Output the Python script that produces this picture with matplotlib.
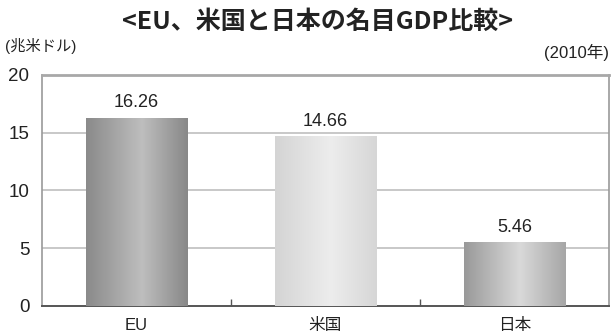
import matplotlib.pyplot as plt
import numpy as np
from matplotlib.colors import LinearSegmentedColormap

# 数字と英字は Helvetica 系, 日本語はゴシック
plt.rcParams['font.family'] = ['Liberation Sans', 'Noto Sans CJK JP']

# 名目GDP(兆米ドル, 2010年)
regions = ["EU", "米国", "日本"]
gdp = [16.26, 14.66, 5.46]
yticks = [0, 5, 10, 15, 20]

# 各棒の横方向グラデーション (左端, 中央, 右端)
shades = [
    ["#8a8a8a", "#bebebe", "#888888"],
    ["#d4d4d4", "#ededed", "#d6d6d6"],
    ["#999999", "#d9d9d9", "#a6a6a6"],
]

fig = plt.figure(figsize=(6.11, 3.36), dpi=100)
ax = fig.add_axes([0.0687, 0.0893, 0.9280, 0.6877])

x = np.arange(len(regions))
bars = ax.bar(x, gdp, width=0.535, color="none", edgecolor="none", zorder=3)

grad = np.linspace(0, 1, 256).reshape(1, -1)
for b, sh in zip(bars, shades):
    cmap = LinearSegmentedColormap.from_list("g", [(0, sh[0]), (0.55, sh[1]), (1, sh[2])])
    x0, w, h = b.get_x(), b.get_width(), b.get_height()
    ax.imshow(grad, cmap=cmap, aspect="auto", extent=[x0, x0 + w, 0, h],
              zorder=3, interpolation="bicubic")

for xi, v in zip(x, gdp):
    ax.text(xi, v + 0.6, f"{v:.2f}", ha="center", va="bottom",
            fontsize=13, color="#222222", zorder=4)

ax.set_xlim(-0.5, len(regions) - 0.5)
ax.set_ylim(0, 20)
ax.set_yticks(yticks)
ax.set_yticklabels([str(t) for t in yticks], fontsize=13.5, color="#222222")
ax.tick_params(axis="y", length=0, pad=9)

ax.set_xticks(x)
ax.set_xticklabels(regions, fontsize=12, color="#222222")
ax.tick_params(axis="x", which="major", length=0, pad=9)
ax.set_xticks([0.5, 1.5], minor=True)
ax.tick_params(axis="x", which="minor", direction="in", length=5,
               width=1, color="#555555")

for yv in yticks[1:-1]:
    ax.axhline(yv, color="#c8c8c8", lw=1.4, zorder=1)

ax.spines["top"].set_color("#a8a8a8")
ax.spines["top"].set_linewidth(2)
ax.spines["left"].set_color("#999999")
ax.spines["left"].set_linewidth(1.2)
ax.spines["right"].set_color("#999999")
ax.spines["right"].set_linewidth(1.2)
ax.spines["bottom"].set_color("#555555")
ax.spines["bottom"].set_linewidth(1.4)

fig.text(0.52, 0.935, "<EU、米国と日本の名目GDP比較>", ha="center", va="center",
         fontsize=18, fontweight="bold", color="#222222",
         family=['Noto Sans CJK JP'])
fig.text(0.008, 0.862, "(兆米ドル)", ha="left", va="center",
         fontsize=11, color="#222222")
fig.text(0.997, 0.843, "(2010年)", ha="right", va="center",
         fontsize=12, color="#222222")

fig.savefig("out.png", dpi=100, facecolor="white")
